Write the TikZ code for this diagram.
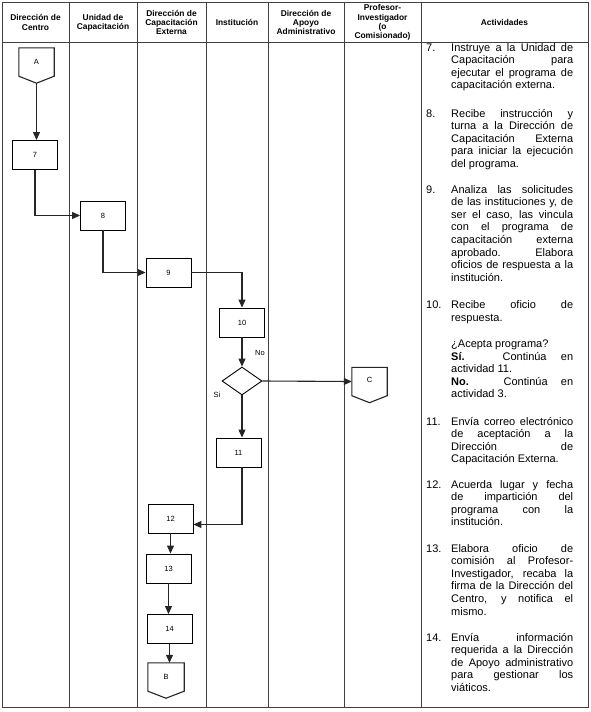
\documentclass[tikz,border=0pt]{standalone}
\usepackage{fontspec}
\setmainfont{Liberation Sans}
\usetikzlibrary{arrows.meta,shapes.geometric}
\newcommand\jline[1]{\hbox to 122pt{#1}}
\newcommand\lline[1]{\hbox{#1}}
\newcommand\offpage[1]{\draw[flow] (#1.north west) -- (#1.north east) -- (#1.south east) -- ([yshift=-7pt]#1.south) -- (#1.south west) -- cycle;}
\newcommand\actlines[1]{\vtop{\baselineskip=12.6pt #1}}
\begin{document}
\begin{tikzpicture}[x=1pt,y=-1pt,
 grid/.style={draw=black!75,line width=0.8pt},
 hdr/.style={font=\fontsize{8.4}{9.3}\selectfont\bfseries,align=center,inner sep=0},
 box/.style={draw=black,line width=0.9pt,minimum width=45pt,minimum height=29pt,inner sep=0,font=\fontsize{7.5}{9}\selectfont},
 conn/.style={minimum width=35pt,minimum height=28pt,inner sep=0,font=\fontsize{7.5}{9}\selectfont},
 flow/.style={draw=black!85,line width=1.1pt},
 arr/.style={flow,-{Triangle[length=8pt,width=7pt]}},
 act/.style={font=\fontsize{11}{12.6}\selectfont,inner sep=0,anchor=base west},
 num/.style={font=\fontsize{11}{12.6}\selectfont,inner sep=0,anchor=base west},
 lbl/.style={font=\fontsize{7.5}{9}\selectfont,inner sep=0}]

\useasboundingbox (0,0) rectangle (590,712);
\fill[white] (0,0) rectangle (590,712);

% table grid
\draw[grid] (2,2) rectangle (588,707);
\draw[grid] (2,42) -- (588,42);
\foreach \x in {69,137,206,268,344,421} \draw[grid] (\x,2) -- (\x,707);

% headers
\node[hdr] (h1) at (35.5,22.5) {Dirección de\\Centro};
\node[hdr] (h2) at (103,22.5) {Unidad de\\Capacitación};
\node[hdr] (h3) at (171.5,22.5) {Dirección de\\Capacitación\\Externa};
\node[hdr] (h4) at (237,22.5) {Institución};
\node[hdr] (h5) at (306,22.5) {Dirección de\\Apoyo\\Administrativo};
\node[hdr] (h6) at (382.5,22.5) {Profesor-\\Investigador\\(o\\Comisionado)};
\node[hdr] (h7) at (504.5,22.5) {Actividades};

% flow nodes
\node[conn] (A) at (36.5,62) {A}; \offpage{A}
\node[box] (b7) at (35,155) {7};
\node[box] (b8) at (103,215.5) {8};
\node[box] (b9) at (168.5,272.5) {9};
\node[box] (b10) at (242,322.5) {10};
\node[draw=black,line width=0.9pt,diamond,aspect=1.43,minimum width=40pt,minimum height=28pt,inner sep=0] (d) at (242,381) {};
\node[conn] (C) at (369.5,381.5) {\raisebox{4pt}{C}}; \offpage{C}
\node[box] (b11) at (238.5,452.5) {11};
\node[box] (b12) at (170.5,518.5) {12};
\node[box] (b13) at (168.5,568.5) {13};
\node[box] (b14) at (169.5,629) {14};
\node[conn,minimum width=36pt] (B) at (166,677) {B}; \offpage{B}

\node[lbl] (no) at (260,353) {No};
\node[lbl] (si) at (217,395) {Si};

% connectors
\draw[arr] ([yshift=-7pt]A.south) -- (A.south |- b7.north);
\draw[arr] (b7.south) |- (b8.west);
\draw[arr] (b8.south) |- (b9.west);
\draw[arr] (b9.east) -| (b10.north);
\draw[arr] (b10.south) -- (d.north);
\draw[arr] (d.east) -- (C.west);
\draw[arr] (d.south) -- (d.south |- b11.north);
\draw[arr] (d.south |- b11.south) |- ([yshift=-6pt]b12.east);
\draw[arr] (b12.south) -- (b12.south |- b13.north);
\draw[arr] (b13.south) -- (b13.south |- b14.north);
\draw[arr] (b14.south) -- (b14.south |- B.north);

% activities
\node[num] (n7) at (426,51) {7.};
\node[act] (t7) at (451,51) {\actlines{%
 \jline{Instruye a la Unidad de}
 \jline{Capacitación para}
 \jline{ejecutar el programa de}
 \lline{capacitación externa.}}};
\node[num] (n8) at (426,117) {8.};
\node[act] (t8) at (451,117) {\actlines{%
 \jline{Recibe instrucción y}
 \jline{turna a la Dirección de}
 \jline{Capacitación Externa}
 \jline{para iniciar la ejecución}
 \lline{del programa.}}};
\node[num] (n9) at (426,193) {9.};
\node[act] (t9) at (451,193) {\actlines{%
 \jline{Analiza las solicitudes}
 \jline{de las instituciones y, de}
 \jline{ser el caso, las vincula}
 \jline{con el programa de}
 \jline{capacitación externa}
 \jline{aprobado. Elabora}
 \jline{oficios de respuesta a la}
 \lline{institución.}}};
\node[num] (n10) at (426,308.5) {10.};
\node[act] (t10) at (451,308.5) {\actlines{%
 \jline{Recibe oficio de}
 \lline{respuesta.}}};
\node[act] (t10b) at (451,347.5) {\actlines{%
 \lline{¿Acepta programa?}
 \jline{\textbf{Sí.} Continúa en}
 \lline{actividad 11.}
 \jline{\textbf{No.} Continúa en}
 \lline{actividad 3.}}};
\node[num] (n11) at (426,425) {11.};
\node[act] (t11) at (451,425) {\actlines{%
 \jline{Envía correo electrónico}
 \jline{de aceptación a la}
 \jline{Dirección de}
 \lline{Capacitación Externa.}}};
\node[num] (n12) at (426,488) {12.};
\node[act] (t12) at (451,488) {\actlines{%
 \jline{Acuerda lugar y fecha}
 \jline{de impartición del}
 \jline{programa con la}
 \lline{institución.}}};
\node[num] (n13) at (426,552) {13.};
\node[act] (t13) at (451,552) {\actlines{%
 \jline{Elabora oficio de}
 \jline{comisión al Profesor-}
 \jline{Investigador, recaba la}
 \jline{firma de la Dirección del}
 \jline{Centro, y notifica el}
 \lline{mismo.}}};
\node[num] (n14) at (426,641) {14.};
\node[act] (t14) at (451,641) {\actlines{%
 \jline{Envía información}
 \jline{requerida a la Dirección}
 \jline{de Apoyo administrativo}
 \jline{para gestionar los}
 \lline{viáticos.}}};
\end{tikzpicture}
\end{document}
